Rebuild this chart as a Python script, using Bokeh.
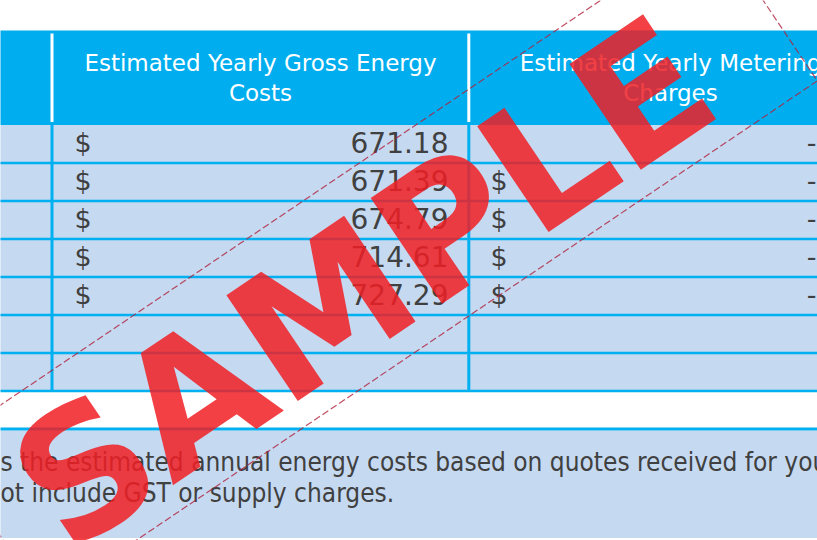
import math
from bokeh.plotting import figure
from bokeh.models import Range1d, ColumnDataSource
from bokeh.core.properties import value
from bokeh.embed import file_html
from bokeh.resources import INLINE

# ---------------- data ----------------
header_gross = ["Estimated Yearly Gross Energy", "Costs"]
header_meter = ["Estimated Yearly Metering", "Charges"]
gross_symbol = ["$", "$", "$", "$", "$"]
gross_costs = [671.18, 671.39, 674.79, 714.61, 727.29]
meter_symbol = ["", "$", "$", "$", "$"]
meter_charges = ["-", "-", "-", "-", "-"]
n_rows = 7
footer_lines = [
    "s the estimated annual energy costs based on quotes received for your",
    "ot include GST or supply charges.",
]
watermark = "SAMPLE"

# ---------------- style ----------------
HEADER_BLUE = "#00AEEF"
LINE_BLUE = "#00B0F0"
BODY_FILL = "#C5D9F1"
TEXT = "#404040"
WM_RED = "#F01E24"

W, H = 817, 540
p = figure(width=W, height=H, x_range=Range1d(0, W), y_range=Range1d(H, 0),
           output_backend="svg", toolbar_location=None, min_border=0,
           x_axis_type=None, y_axis_type=None)
p.grid.visible = False
p.outline_line_color = None
p.background_fill_color = "white"
p.border_fill_color = "white"

# layout (pixel units; 1 data unit = 1 px)
xl, xr = -20, 880
col_x = [51.5, 468.3]
head_top, body_top = 30, 124.5
row_h = 38
body_bot = body_top + n_rows * row_h
foot_line = 428.5
foot_top, foot_bot = 430, 537.5

# header band and body
p.quad(left=[xl], right=[xr], top=[head_top], bottom=[body_top], fill_color=HEADER_BLUE, line_color=None)
p.quad(left=[xl], right=[xr], top=[body_top], bottom=[body_bot], fill_color=BODY_FILL, line_color=None)
p.quad(left=[xl], right=[xr], top=[foot_top], bottom=[foot_bot], fill_color=BODY_FILL, line_color=None)

# header white dividers
p.segment(x0=col_x, x1=col_x, y0=[33] * 2, y1=[121.5] * 2, line_color="white", line_width=3)
# body vertical lines
p.segment(x0=col_x, x1=col_x, y0=[body_top] * 2, y1=[body_bot] * 2, line_color=LINE_BLUE, line_width=3)
# row lines
row_lines = [body_top + row_h * (k + 1) for k in range(n_rows)]
p.segment(x0=[xl] * n_rows, x1=[xr] * n_rows, y0=row_lines, y1=row_lines, line_color=LINE_BLUE, line_width=2.7)
p.segment(x0=[xl], x1=[xr], y0=[foot_line], y1=[foot_line], line_color=LINE_BLUE, line_width=3)

# text anchor correction (renderer places alphabetic baseline lower)
def ty(y, fs):
    return y - 0.37 * fs

# header texts
hfont = value("DejaVu Sans")
p.text(x=[260, 260], y=[ty(71, 23), ty(101, 23)], text=header_gross, text_align="center",
       text_baseline="alphabetic", text_font=hfont, text_font_size="23px", text_color="white")
p.text(x=[670, 670], y=[ty(71, 23), ty(101, 23)], text=header_meter, text_align="center",
       text_baseline="alphabetic", text_font=hfont, text_font_size="23px", text_color="white")

# body texts
bfs = 28
base = [ty(body_top + 27.2 + row_h * k, 27) for k in range(len(gross_costs))]
src = ColumnDataSource(dict(
    y=base,
    gsym=gross_symbol,
    gval=["{:,.2f}".format(v) for v in gross_costs],
    msym=meter_symbol,
    mval=meter_charges,
))
bfont = value("DejaVu Sans")
p.text(x=74, y="y", text="gsym", source=src, text_align="left", text_baseline="alphabetic",
       text_font=bfont, text_font_size="27px", text_color=TEXT)
p.text(x=448, y="y", text="gval", source=src, text_align="right", text_baseline="alphabetic",
       text_font=bfont, text_font_size=f"{bfs}px", text_color=TEXT)
p.text(x=490, y="y", text="msym", source=src, text_align="left", text_baseline="alphabetic",
       text_font=bfont, text_font_size="27px", text_color=TEXT)
p.text(x=816, y="y", text="mval", source=src, text_align="right", text_baseline="alphabetic",
       text_font=bfont, text_font_size="27px", text_color=TEXT)

# footer
p.text(x=[0, 0], y=[ty(471.5, 26), ty(502, 26)], text=footer_lines, text_align="left",
       text_baseline="alphabetic", text_font=value("DejaVu Sans Condensed"),
       text_font_size="26px", text_color=TEXT)

# watermark
a = math.radians(34)
u = (math.cos(a), -math.sin(a))   # along text (y down)
v = (math.sin(a), math.cos(a))    # perpendicular, downward
cx, cy = 372, 270
fs = 175
ax_ = cx + 6 * v[0] - 15 * u[0]
ay_ = cy + 6 * v[1] - 15 * u[1]
p.text(x=[ax_], y=[ay_], text=[watermark], angle=a,
       text_align="center", text_baseline="alphabetic", text_font=value("DejaVu Sans"),
       text_font_style="bold", text_font_size=f"{fs}px", text_color=WM_RED, text_alpha=0.85)

fcx, fcy, L, Hh = 378, 263, 932, 188
corners = []
for s1, s2 in [(-1, -1), (1, -1), (1, 1), (-1, 1), (-1, -1)]:
    corners.append((fcx + s1 * L / 2 * u[0] + s2 * Hh / 2 * v[0],
                    fcy + s1 * L / 2 * u[1] + s2 * Hh / 2 * v[1]))
p.line(x=[c[0] for c in corners], y=[c[1] for c in corners], line_color="#B0203C",
       line_width=1.2, line_dash="7 3", line_alpha=0.8)

open("out.html", "w").write(file_html(p, INLINE))
